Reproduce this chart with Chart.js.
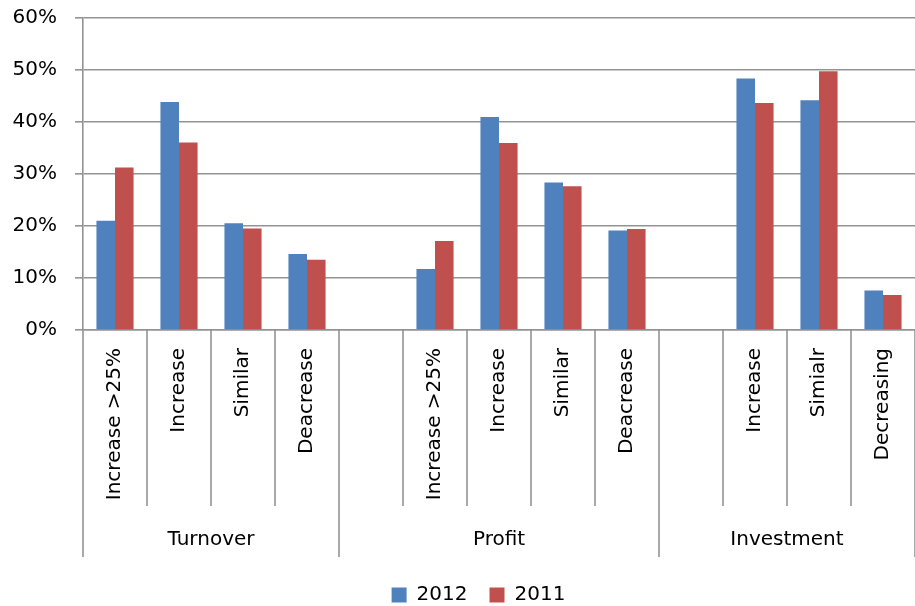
<!DOCTYPE html>
<html>
<head>
<meta charset="utf-8">
<script src="https://cdn.jsdelivr.net/npm/chart.js@4/dist/chart.umd.min.js"></script>
<style>
  html, body { margin: 0; padding: 0; background: #fff; overflow: hidden; }
  #wrap { width: 925px; height: 606px; }
</style>
</head>
<body>
<div id="wrap"><canvas id="c" width="925" height="606"></canvas></div>
<script>
// Category slots (blank slots separate the groups)
const categories = [
  'Increase >25%', 'Increase', 'Similar', 'Deacrease',
  '', 'Increase >25%', 'Increase', 'Similar', 'Deacrease',
  '', 'Increase', 'Simialr', 'Decreasing'
];
const groupLabels = ['Turnover', 'Profit', 'Investment'];
const groupSizes = [4, 5, 4];

const values2012 = [21.0, 43.8, 20.5, 14.6, null, 11.7, 40.9, 28.3, 19.1, null, 48.3, 44.1, 7.6];
const values2011 = [31.2, 36.0, 19.5, 13.5, null, 17.1, 35.9, 27.6, 19.4, null, 43.6, 49.7, 6.7];

const yTicks = [0, 10, 20, 30, 40, 50, 60];

const FONT = { family: 'DejaVu Sans', size: 20 };
const AXIS_GRAY = '#939393';
const LINE_W = 1.6;

// Draws the divider lines under the category axis and the group captions
const groupAxisPlugin = {
  id: 'groupAxis',
  afterLayout(chart) {
    // legend sits a little lower and is centred on the plotting span
    const lg = chart.legend;
    if (lg) {
      lg.left = 32;
      lg.top += 9;
      lg.bottom += 9;
    }
  },
  afterDraw(chart) {
    const x = chart.scales.x;
    const ctx = chart.ctx;
    const top = chart.chartArea.bottom;
    const half = (x.getPixelForValue(1) - x.getPixelForValue(0)) / 2;
    const shortEnd = top + 176;
    const longEnd = top + 227;

    const groupEdges = [0];
    groupSizes.forEach(n => groupEdges.push(groupEdges[groupEdges.length - 1] + n));

    ctx.save();
    ctx.strokeStyle = AXIS_GRAY;
    ctx.lineWidth = LINE_W;
    for (let i = 0; i <= categories.length; i++) {
      const px = x.getPixelForValue(i) - half;
      const end = groupEdges.includes(i) ? longEnd : shortEnd;
      ctx.beginPath();
      ctx.moveTo(px, top);
      ctx.lineTo(px, end);
      ctx.stroke();
    }
    ctx.fillStyle = '#000';
    ctx.font = FONT.size + 'px "' + FONT.family + '"';
    ctx.textAlign = 'center';
    ctx.textBaseline = 'middle';
    groupLabels.forEach((g, k) => {
      const a = x.getPixelForValue(groupEdges[k]) - half;
      const b = x.getPixelForValue(groupEdges[k + 1]) - half;
      ctx.fillText(g, (a + b) / 2, top + 210);
    });
    ctx.restore();
  }
};

new Chart(document.getElementById('c'), {
  type: 'bar',
  data: {
    labels: categories,
    datasets: [
      { label: '2012', data: values2012, backgroundColor: '#4F81BD' },
      { label: '2011', data: values2011, backgroundColor: '#C0504D' }
    ]
  },
  options: {
    responsive: false,
    animation: false,
    devicePixelRatio: 1,
    layout: { padding: { left: 0, right: 0, top: 17.5, bottom: 0 } },
    datasets: { bar: { categoryPercentage: 0.58, barPercentage: 1.0 } },
    plugins: {
      legend: {
        position: 'bottom',
        labels: {
          boxWidth: 15, boxHeight: 15, padding: 22,
          color: '#000', font: FONT
        }
      },
      tooltip: { enabled: false }
    },
    scales: {
      x: {
        grid: { display: false, drawTicks: false },
        border: { display: true, color: AXIS_GRAY, width: LINE_W },
        ticks: {
          autoSkip: false, maxRotation: 90, minRotation: 90,
          padding: 18, color: '#000', font: FONT
        },
        afterFit(scale) {
          scale.height = 224;
          scale.paddingTop = 0;
          scale.paddingBottom = 0;
        }
      },
      y: {
        min: 0, max: 60,
        afterBuildTicks(scale) { scale.ticks = yTicks.map(v => ({ value: v })); },
        grid: { color: AXIS_GRAY, tickLength: 8, lineWidth: LINE_W },
        border: { display: true, color: AXIS_GRAY, width: LINE_W },
        ticks: {
          padding: 18, color: '#000', font: FONT,
          callback: v => v + '%'
        },
        afterFit(scale) {
          scale.width = 83;
          scale.paddingTop = 0;
          scale.paddingBottom = 0;
        }
      }
    }
  },
  plugins: [groupAxisPlugin]
});
</script>
</body>
</html>
